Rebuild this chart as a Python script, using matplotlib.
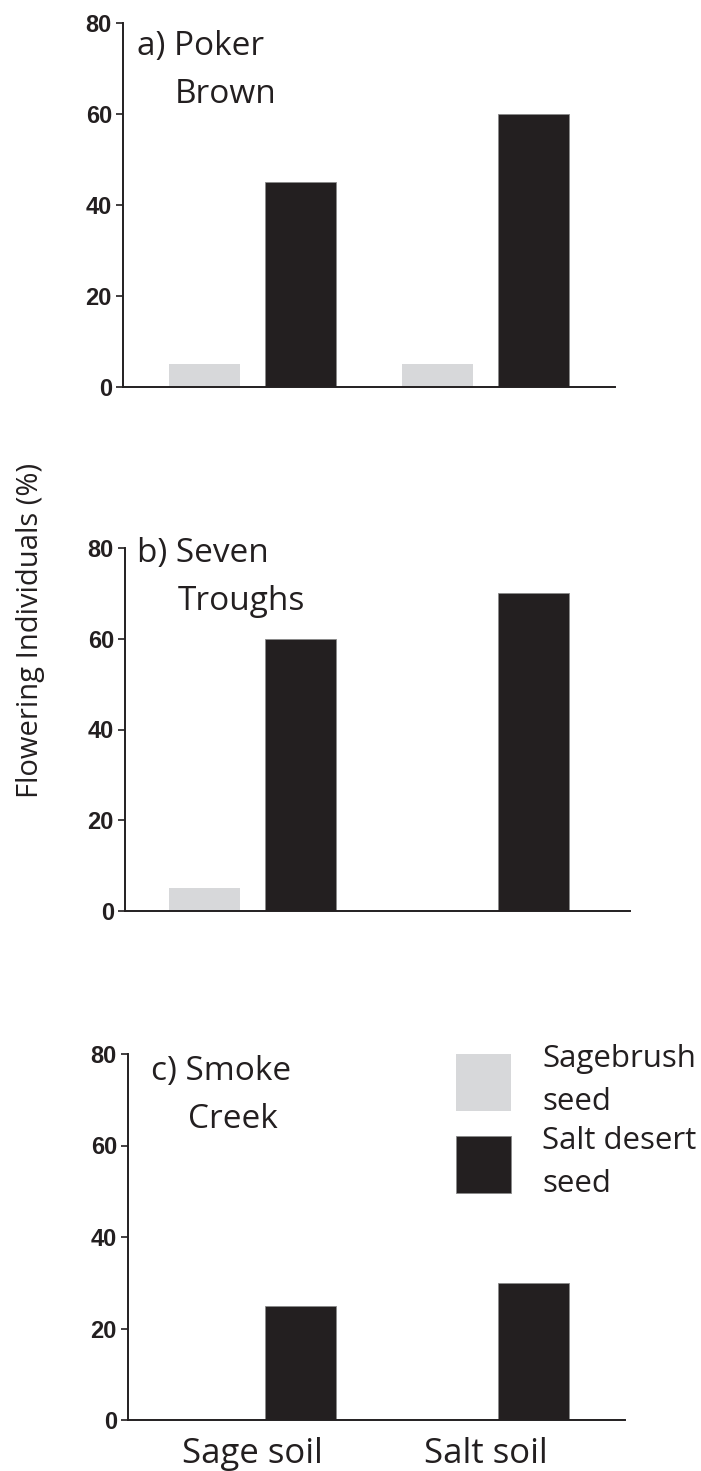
import numpy as np
import matplotlib
matplotlib.use("Agg")
import matplotlib.pyplot as plt

# flowering percentages per site: [sage soil, salt soil]
sites = ["a) Poker\nBrown", "b) Seven\nTroughs", "c) Smoke\nCreek"]
soils = ["Sage soil", "Salt soil"]
sagebrush_seed = [[5, 5], [5, 0], [0, 0]]
salt_desert_seed = [[45, 60], [60, 70], [25, 30]]
yticks = [0, 20, 40, 60, 80]

light = "#D7D8DA"
dark = "#231F20"
W, H = 701, 1471

fig = plt.figure(figsize=(W / 100, H / 100), dpi=100)

# axes boxes in pixels: left, right, top, bottom
boxes = [(123, 615, 23, 387), (125, 630, 548, 911), (128, 625, 1054, 1420)]
# pixel x of the first group centre and pixels per group step
x0_px, step_px = 252.5, 233.0
# title anchors: (line1 x, line1 baseline, line2 x, line2 baseline)
title_pos = [(137, 55, 175, 103), (137, 562, 178, 610), (151, 1080, 188, 1128)]

x = np.arange(len(soils))
off, bw = 0.206, 0.305
sans = "Open Sans"

axes = []
for i, (l, r, t, b) in enumerate(boxes):
    ax = fig.add_axes([l / W, 1 - b / H, (r - l) / W, (b - t) / H])
    g = ax.bar(x - off, sagebrush_seed[i], bw, color=light, label="Sagebrush\nseed")
    k = ax.bar(x + off, salt_desert_seed[i], bw, color=dark,
               edgecolor="#8a8a8a", linewidth=0.6, label="Salt desert\nseed")
    ax.set_xlim((l - x0_px) / step_px, (r - x0_px) / step_px)
    ax.set_ylim(0, 80)
    ax.set_yticks(yticks)
    ax.set_yticklabels([str(v) for v in yticks], fontfamily="Liberation Sans",
                       fontweight="bold", fontsize=17, color=dark)
    ax.tick_params(axis="y", length=5, width=1.2, pad=3, color=dark)
    for s in ["top", "right"]:
        ax.spines[s].set_visible(False)
    for s in ["left", "bottom"]:
        ax.spines[s].set_linewidth(1.4)
        ax.spines[s].set_color(dark)
    ax.set_xticks(x)
    if i == 2:
        ax.set_xticklabels(soils, fontfamily=sans, fontsize=25, color=dark)
        ax.tick_params(axis="x", length=0, pad=12)
    else:
        ax.set_xticklabels([])
        ax.tick_params(axis="x", length=0)

    l1x, l1y, l2x, l2y = title_pos[i]
    line1, line2 = sites[i].split("\n")
    fig.text(l1x / W, 1 - l1y / H, line1, fontfamily=sans, fontsize=24,
             color=dark, ha="left", va="baseline")
    fig.text(l2x / W, 1 - l2y / H, line2, fontfamily=sans, fontsize=24,
             color=dark, ha="left", va="baseline")
    axes.append((ax, g, k))

ax, g, k = axes[2]
leg = ax.legend(handles=[g, k], loc="upper left",
                bbox_to_anchor=(456 / W, 1 - 1044 / H), bbox_transform=fig.transFigure,
                frameon=False, prop={"family": sans, "size": 22.5},
                handlelength=1.75, handleheight=2.45, handletextpad=1.0,
                labelspacing=0.3, borderpad=0, borderaxespad=0)
for t in leg.get_texts():
    t.set_color(dark)
    t.set_linespacing(1.55)

fig.text(31 / W, 1 - 630 / H, "Flowering Individuals (%)", rotation=90,
         fontfamily=sans, fontsize=21, color=dark, ha="center", va="center")

fig.savefig("out.png", dpi=100)
